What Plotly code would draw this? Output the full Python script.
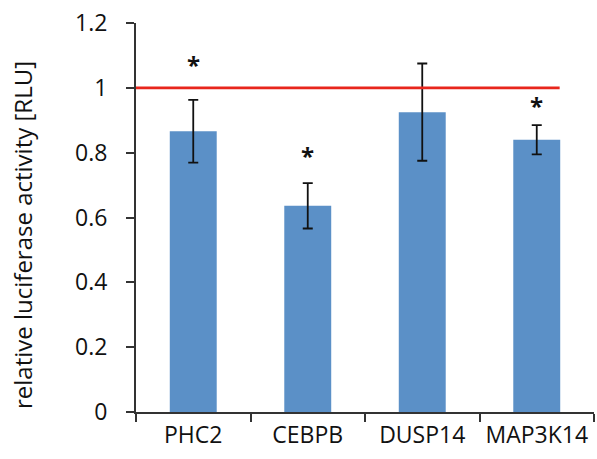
import plotly.graph_objects as go

categories = ["PHC2", "CEBPB", "DUSP14", "MAP3K14"]
values = [0.866, 0.636, 0.925, 0.840]
errors = [0.097, 0.070, 0.150, 0.045]
stars = ["*", "*", "", "*"]
star_y = [1.074, 0.794, None, 0.950]
reference_level = 1.0
y_ticks = [0, 0.2, 0.4, 0.6, 0.8, 1, 1.2]
y_ticktext = ["0", "0.2", "0.4", "0.6", "0.8", "1", "1.2"]
y_title = "relative luciferase activity [RLU]"

FONT = "Open Sans"

fig = go.Figure()
fig.add_trace(go.Bar(
    x=categories, y=values, width=0.41,
    marker=dict(color="#5b90c7", line=dict(width=0)),
    error_y=dict(type="data", array=errors, visible=True,
                 color="#111111", thickness=1.8, width=5),
))

fig.add_shape(type="line", xref="x", yref="y",
              x0=-0.5, x1=3.2, y0=reference_level, y1=reference_level,
              line=dict(color="#e8261c", width=2.6), layer="above")

for i, (s, sy) in enumerate(zip(stars, star_y)):
    if s and sy is not None:
        fig.add_annotation(x=i, y=sy, text="<b>*</b>", showarrow=False,
                           xref="x", yref="y", yanchor="middle",
                           yshift=-1,
                           font=dict(family=FONT, size=24, color="#111111"))

fig.add_annotation(text=y_title, textangle=-90, showarrow=False,
                   xref="paper", yref="paper", x=0, y=0.455,
                   xanchor="center", yanchor="middle", xshift=-114,
                   font=dict(family=FONT, size=24, color="#111111"))

fig.update_layout(
    width=597, height=459,
    margin=dict(l=136, r=3, t=23, b=47),
    paper_bgcolor="white", plot_bgcolor="white",
    showlegend=False,
    font=dict(family=FONT, color="#111111"),
    bargap=0.59,
)
fig.update_xaxes(
    type="category", tickson="boundaries", range=[-0.5, 3.5],
    showline=True, linecolor="#333333", linewidth=2,
    ticks="outside", ticklen=8, tickwidth=2, tickcolor="#333333",
    tickfont=dict(family=FONT, size=23, color="#111111"),
    tickangle=0, automargin=False,
    ticklabelstandoff=1,
    showgrid=False, zeroline=False,
)
fig.update_yaxes(
    range=[0, 1.2], tickvals=y_ticks, ticktext=y_ticktext,
    showline=True, linecolor="#333333", linewidth=2,
    ticks="outside", ticklen=8, tickwidth=2, tickcolor="#333333",
    tickfont=dict(family=FONT, size=23, color="#111111"),
    ticklabelstandoff=14, automargin=False,
    showgrid=False, zeroline=False,
)

fig.write_html("out.html")
